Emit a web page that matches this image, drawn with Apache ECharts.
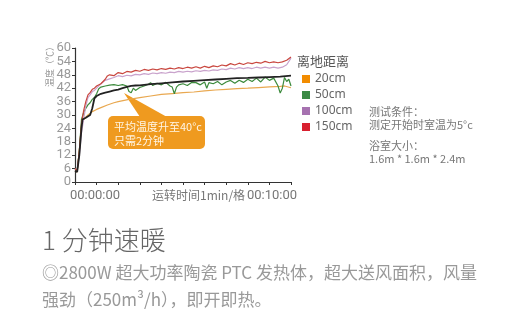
<!DOCTYPE html>
<html><head><meta charset="utf-8">
<script src="https://cdn.jsdelivr.net/npm/echarts@6/dist/echarts.min.js"></script>
<style>html,body{margin:0;padding:0;background:#fff}#c{width:520px;height:314px}</style>
</head><body><div id="c"></div>
<script>
const legendNames = ['20cm','50cm','100cm','150cm'];
const yTicks = [0,6,12,18,24,30,36,42,48,54,60];
const xLabels = ['00:00:00','运转时间1min/格','00:10:00'];
const s20 = [[0,5],[0.1,4.5],[0.2,14],[0.3,26],[0.4,28],[0.6,30],[0.8,31.5],[1.0,32.5],[1.2,33.3],[1.5,34.5],[1.8,35.5],[2.0,36],[2.5,37],[3.0,37.8],[3.5,38.5],[4.0,39.2],[4.5,39.6],[5.0,40],[5.5,40.3],[6.0,40.8],[6.5,41.2],[7.0,41.5],[7.5,41.8],[8.0,42],[8.5,42.3],[9.0,42.6],[9.5,42.8],[9.7,43],[10,42.2]];
const s50 = [[0,6],[0.1,5],[0.2,14],[0.3,28],[0.4,31],[0.5,33],[0.6,34.5],[0.7,35.5],[0.8,37],[0.9,37.8],[1.0,39.5],[1.1,41.8],[1.2,42.5],[1.4,43],[1.6,43.4],[1.8,43.6],[2.0,43.2],[2.2,43.6],[2.4,43],[2.5,40.5],[2.6,40],[2.7,42],[2.8,41],[3.0,42.3],[3.2,43],[3.4,43.8],[3.5,44.5],[3.6,43.2],[3.8,44.2],[4.0,43.5],[4.2,44.6],[4.4,43],[4.5,42.5],[4.6,39.5],[4.7,42.5],[4.8,43.5],[5.0,44],[5.2,43.2],[5.4,44.6],[5.6,44.5],[5.8,43.5],[6.0,44.8],[6.1,42],[6.2,44.5],[6.4,44],[6.6,45],[6.8,43.5],[7.0,44.8],[7.2,45.5],[7.4,44.2],[7.6,45.6],[7.8,44.6],[8.0,46],[8.2,45],[8.4,46.5],[8.6,44.8],[8.8,47],[9.0,45.5],[9.2,46.5],[9.4,43],[9.5,39.8],[9.6,42],[9.7,46.8],[9.8,45],[9.9,46],[10,43]];
const s100 = [[0,6],[0.1,5],[0.2,12],[0.3,22],[0.4,28],[0.5,34],[0.6,37.8],[0.7,39],[0.8,40.5],[0.9,41],[1.0,42],[1.2,44],[1.4,45.5],[1.6,46.2],[1.8,46.8],[2.0,47.6],[2.2,47.2],[2.4,47.8],[2.6,47.5],[2.8,48.2],[3.0,48],[3.2,48.5],[3.4,48.2],[3.6,48.8],[3.8,48.5],[4.0,49],[4.2,48.7],[4.4,49.2],[4.6,49],[4.8,49.5],[5.0,49.2],[5.2,49.6],[5.4,49.3],[5.6,49.8],[5.8,49.5],[6.0,50],[6.2,49.7],[6.4,50.2],[6.6,50],[6.8,50.6],[7.0,50.3],[7.2,51],[7.4,50.6],[7.6,51.2],[7.8,50.8],[8.0,51.2],[8.2,50.8],[8.4,51.4],[8.6,51],[8.8,51.4],[9.0,51],[9.2,51.4],[9.4,51],[9.6,51.4],[9.8,52.5],[10,55.5]];
const s150 = [[0,6],[0.1,5],[0.2,14],[0.3,26],[0.4,32],[0.5,36],[0.6,39],[0.7,40],[0.8,41.5],[0.9,42],[1.0,43],[1.2,44],[1.4,46],[1.5,47.5],[1.6,48],[1.8,47.6],[2.0,49],[2.2,48.5],[2.4,49.5],[2.6,49.2],[2.8,50],[3.0,49.6],[3.2,50.4],[3.4,50],[3.6,50.6],[3.8,50.2],[4.0,50.8],[4.2,50.4],[4.4,51],[4.6,50.6],[4.8,51.2],[5.0,50.8],[5.2,51.4],[5.4,51],[5.6,51.6],[5.8,51],[6.0,51.8],[6.2,51.2],[6.4,52],[6.6,51.6],[6.8,52.4],[7.0,52],[7.2,53],[7.4,52.4],[7.6,53.2],[7.8,52.6],[8.0,53.4],[8.2,53],[8.4,53.6],[8.6,53.2],[8.8,54],[9.0,53.4],[9.2,53.8],[9.4,53.4],[9.6,53.8],[9.8,54.5],[10,56]];
const sAvg = [[0,5],[0.1,4.5],[0.2,12],[0.3,24],[0.35,28],[0.5,28.8],[0.7,30],[0.8,33],[0.9,37.5],[1.0,38.5],[1.2,39.5],[1.4,40],[1.6,40.5],[1.8,41],[2.0,41.4],[2.2,42],[2.4,42.6],[2.6,43],[2.8,43.2],[3.0,43.3],[3.5,43.8],[4.0,44.2],[4.5,44.6],[5.0,45],[5.5,45.3],[6.0,45.6],[6.5,45.9],[7.0,46.2],[7.5,46.5],[8.0,46.6],[8.5,46.8],[9.0,47],[9.5,47.2],[10,47.6]];

const legendColors = ['#f28c00','#3b8a45','#a672b0','#d8202f'];
const lineColors = ['#e9a850','#3d8b3d','#c9a3cc','#c9473f'];
const chart = echarts.init(document.getElementById('c'));
const mk = (name, data, i) => ({name, type:'line', data, showSymbol:false, symbol:'none', z: 2+i,
  lineStyle:{width:1.2, color: lineColors[i]}, itemStyle:{color: legendColors[i]}});
chart.setOption({
  animation:false,
  backgroundColor:'#fff',
  grid:{left:75, right:229, top:48, bottom:132},
  xAxis:{type:'value', min:0, max:10, interval:1,
    axisLine:{lineStyle:{color:'#333', width:1.2}},
    axisTick:{show:true, length:3, lineStyle:{color:'#333'}},
    axisLabel:{show:false}, splitLine:{show:false}},
  yAxis:{type:'value', min:0, max:60, interval:6,
    axisLine:{show:true, lineStyle:{color:'#333', width:1.2}},
    axisTick:{show:true, length:3, lineStyle:{color:'#333'}},
    axisLabel:{color:'#999', fontSize:13, lineHeight:13, margin:4, fontFamily:'Roboto', showMinLabel:true, showMaxLabel:true},
    splitLine:{show:false}},
  legend:{orient:'vertical', left:297, top:68, icon:'rect', itemWidth:8, itemHeight:8, itemGap:4,
    textStyle:{color:'#666', fontSize:12, fontFamily:'Noto Sans'},
    data: legendNames.map((n,i)=>({name:n, itemStyle:{color:legendColors[i]}}))},
  series:[mk(legendNames[0], s20, 0), mk(legendNames[1], s50, 1), mk(legendNames[2], s100, 2), mk(legendNames[3], s150, 3),
    {name:'平均', type:'line', data:sAvg, showSymbol:false, symbol:'none', z:10, lineStyle:{width:1.8, color:'#222'}, itemStyle:{color:'#222'}}],
  graphic:[
    {type:'text', x:45, y:87, rotation:Math.PI/2, style:{text:'温度（℃）', fill:'#999', font:'9px "Noto Sans CJK SC"', textVerticalAlign:'top'}},
    {type:'text', x:297, y:55, style:{text:'离地距离', fill:'#555', font:'13px "Noto Sans CJK SC"'}},
    {type:'text', x:70, y:189, style:{text:xLabels[0], fill:'#777', font:'13px Roboto'}},
    {type:'text', x:152, y:189, style:{text:xLabels[1], fill:'#777', font:'12px "Noto Sans CJK SC"'}},
    {type:'text', x:247, y:189, style:{text:xLabels[2], fill:'#777', font:'13px Roboto'}},
    {type:'polygon', shape:{points:[[140,117],[124,93],[167,117]]}, style:{fill:'#ef9a1f'}},
    {type:'rect', shape:{x:108, y:116, width:97, height:33, r:5}, style:{fill:'#ef9a1f'}},
    {type:'text', x:114, y:120, style:{text:'平均温度升至40°c\n只需2分钟', fill:'#fff6e6', font:'11px "Noto Sans CJK SC"', lineHeight:14}},
    {type:'text', x:369, y:105, style:{text:'测试条件：\n测定开始时室温为5°c', fill:'#777', font:'11px "Noto Sans CJK SC"', lineHeight:13}},
    {type:'text', x:369, y:139, style:{text:'浴室大小：\n1.6m * 1.6m * 2.4m', fill:'#777', font:'11px "Noto Sans CJK SC"', lineHeight:13}},
    {type:'text', x:42, y:227, style:{text:'1 分钟速暖', fill:'#666', font:'300 26px "Noto Sans CJK SC"'}},
    {type:'text', x:42, y:259, style:{text:'◎2800W 超大功率陶瓷 PTC 发热体，超大送风面积，风量\n强劲（250m³/h），即开即热。', fill:'#999', font:'17px "Noto Sans CJK SC"', lineHeight:27}}
  ]
});
</script></body></html>
